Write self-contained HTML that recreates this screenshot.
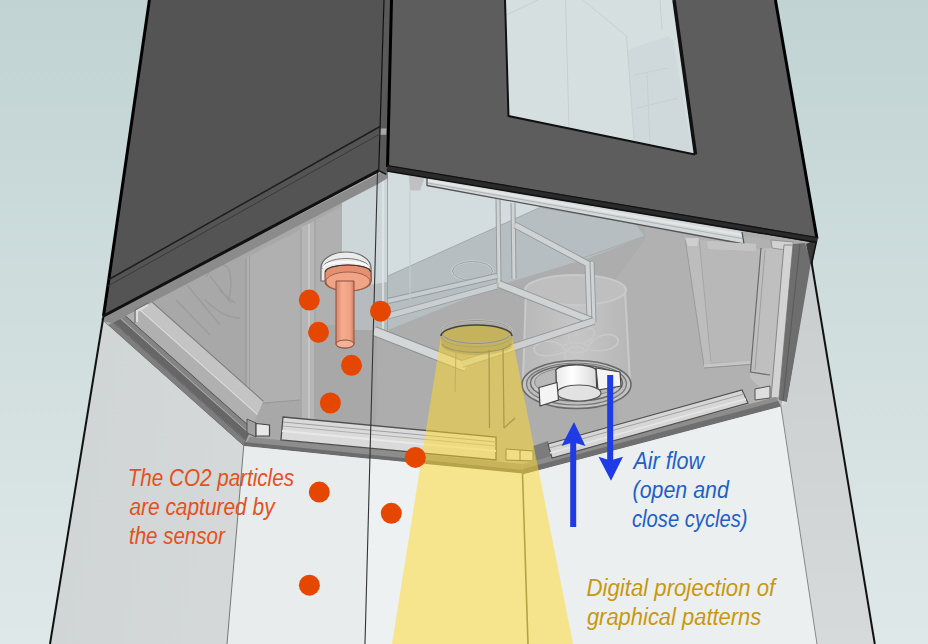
<!DOCTYPE html>
<html><head><meta charset="utf-8"><style>
html,body{margin:0;padding:0;width:928px;height:644px;overflow:hidden;background:#d0dede}
svg{display:block}
.t{font-family:"Liberation Sans",sans-serif;font-style:italic}
</style></head><body>
<svg width="928" height="644" viewBox="0 0 928 644">
<defs>
<linearGradient id="bg" x1="0" y1="0" x2="0" y2="1">
<stop offset="0" stop-color="#c1d3d3"/><stop offset="1" stop-color="#dfe8e8"/>
</linearGradient>
<linearGradient id="lw" x1="0" y1="0" x2="1" y2="0.3">
<stop offset="0" stop-color="#cfd4d4"/><stop offset="1" stop-color="#d4d8d8"/>
</linearGradient>
<linearGradient id="rw" x1="0" y1="0" x2="0" y2="1">
<stop offset="0" stop-color="#c9cdcd"/><stop offset="1" stop-color="#d6dada"/>
</linearGradient>
<linearGradient id="stem" x1="0" y1="0" x2="1" y2="0">
<stop offset="0" stop-color="#d98466"/><stop offset="0.35" stop-color="#f6ae90"/><stop offset="0.8" stop-color="#eea082"/><stop offset="1" stop-color="#d07c60"/>
</linearGradient>
<linearGradient id="wcyl" x1="0" y1="0" x2="1" y2="0">
<stop offset="0" stop-color="#e8e8e8"/><stop offset="0.4" stop-color="#ffffff"/><stop offset="1" stop-color="#d8d8d8"/>
</linearGradient>
<linearGradient id="fcyl" x1="0" y1="0" x2="1" y2="0">
<stop offset="0" stop-color="#b8b8b8"/><stop offset="0.5" stop-color="#c6c6c6"/><stop offset="1" stop-color="#b6b6b6"/>
</linearGradient>
</defs>

<rect x="0" y="0" width="928" height="644" fill="url(#bg)"/>
<polygon points="101.2,319 378,173 388,166 817,238.75 781,406.5 522.5,474.5 243.75,446" fill="#adadad" />
<polygon points="110,312 378,177 376,445 250,440" fill="#a8a8a8" />
<g fill="none" stroke="#999" stroke-width="1.3" opacity="0.75"><path d="M187,285 L220,325"/><path d="M176,300 L210,335"/><path d="M206,277 C212,266 224,262 228,268 C232,276 232,292 228,300"/><path d="M210,276 L231,303 M219,290 L235,303"/><path d="M205,300 C215,310 228,318 240,318"/></g>
<polygon points="246,258 300,230 300,400 252,404 246,398" fill="#b0b0b0" />
<polyline points="246,258 246,398 252,404 300,400" fill="none" stroke="#999" stroke-width="1.2" />
<line x1="249.5" y1="256" x2="249.5" y2="398" stroke="#a0a0a0" stroke-width="1" />
<polygon points="300,228 316,220 316,420 300,420" fill="#b6b6b6" />
<line x1="301" y1="228" x2="301" y2="420" stroke="#9a9a9a" stroke-width="1" />
<line x1="309" y1="224" x2="309" y2="420" stroke="#c6c6c6" stroke-width="2" />
<line x1="315" y1="220" x2="315" y2="420" stroke="#9a9a9a" stroke-width="1" />
<polygon points="316,220 342,206 342,325 316,325" fill="#b0b0b0" />
<polygon points="342,200 378,181 388,176 388,282 342,290" fill="#cdd6d8" />
<polygon points="342,290 388,282 388,330 342,330" fill="#b6bcbe" />
<line x1="387.5" y1="176" x2="387.5" y2="330" stroke="#9aa2a4" stroke-width="1" />
<line x1="383" y1="178" x2="383" y2="330" stroke="#e0e6e8" stroke-width="1.5" />
<polygon points="388,172 742,233 742,243 636,224 540,207.5 388,276" fill="#d3dcde" />
<polygon points="388,276 540,207.5 636,224 645,236 589,258 500,285 388,330" fill="#b6bec1" />
<polyline points="388,276 540,207.5 636,224 645,236 580,259" fill="none" stroke="#a4acae" stroke-width="1" />
<ellipse cx="472.5" cy="271" rx="20" ry="9.5" fill="none" stroke="#c8cfd1" stroke-width="2.5"/>
<ellipse cx="472.5" cy="271" rx="20" ry="9.5" fill="none" stroke="#9aa2a4" stroke-width="1"/>
<polygon points="645,222 805,245 785,400 620,430 600,300 645,240" fill="#b1b1b1" />
<polygon points="684,237 760,249 756,362 704,362" fill="#b8b8b8" />
<polygon points="685,238 699,238 712,362 704,368" fill="#bdbdbd" />
<line x1="685" y1="238" x2="704" y2="366" stroke="#9a9a9a" stroke-width="1" />
<line x1="699" y1="238" x2="711" y2="362" stroke="#a5a5a5" stroke-width="1" />
<polyline points="704,366 756,362" fill="none" stroke="#c6c6c6" stroke-width="3" />
<polyline points="704,368 756,364" fill="none" stroke="#959595" stroke-width="1" />
<polygon points="685,238 699,238 697,246 688,246" fill="#cfcfcf" />
<polygon points="708,241 756,244 756,251 708,249" fill="#c4c4c4" />
<polygon points="760,249 784,247 771,398 750,378" fill="#bfbfbf" />
<polyline points="761,248 750.5,372 770,375" fill="none" stroke="#6a6a6a" stroke-width="1.2" />
<line x1="765" y1="250" x2="755" y2="370" stroke="#a0a0a0" stroke-width="1" />
<polygon points="771,240 793,242 795,262 787,262 786,250 772,248" fill="#d2d2d2" stroke="#888" stroke-width="0.8"/>
<polygon points="784,245 793,245 779,398 771,398" fill="#d3d3d3" stroke="#777" stroke-width="0.8"/>
<polygon points="793,244 805,243 812,265 787,402 779,400" fill="#6e6e6e" />
<line x1="800" y1="244" x2="783" y2="401" stroke="#5a5a5a" stroke-width="1" />
<polygon points="806,244 817,238.75 811.5,268" fill="#383838" />
<path d="M525,290 L522,384 A54.5,21 0 0 0 631,384 L626,290 A50.5,15 0 0 0 525,290 Z" fill="url(#fcyl)"/>
<ellipse cx="575.5" cy="290" rx="50.5" ry="15" fill="#bfbfbf" stroke="#c9c9c9" stroke-width="2"/>
<line x1="526" y1="292" x2="523" y2="383" stroke="#c9c9c9" stroke-width="2" />
<line x1="625" y1="292" x2="630" y2="383" stroke="#c9c9c9" stroke-width="2" />
<g fill="none" stroke="#c9c9c9" stroke-width="1.6"><ellipse cx="576" cy="347.5" rx="13" ry="5"/><ellipse cx="576" cy="350" rx="8" ry="3"/><path d="M563,346 C548,336 530,344 535,352 C540,358 555,356 565,352"/><path d="M589,345 C600,330 620,333 618,342 C616,350 600,352 590,350"/><path d="M570,343 C565,333 575,325 590,328 C600,331 592,340 584,343"/><path d="M566,353 C560,362 575,366 583,360"/></g>
<ellipse cx="576.5" cy="384.5" rx="54.5" ry="24" fill="#c4c4c4" stroke="#6a6a6a" stroke-width="1.6"/>
<ellipse cx="576.5" cy="384" rx="50" ry="21" fill="#bdbdbd" stroke="#7a7a7a" stroke-width="1.2"/>
<ellipse cx="576.5" cy="383" rx="46" ry="18" fill="#c6c6c6" stroke="#6a6a6a" stroke-width="1.4"/>
<ellipse cx="576.5" cy="382" rx="42" ry="15" fill="#b9b9b9" stroke="#8a8a8a" stroke-width="1"/>
<polygon points="596,368 620,372 621,386 598,390" fill="#f4f4f4" stroke="#444" stroke-width="1.2"/>
<path d="M556,372 A20,6 0 0 1 596,370 L597,393 A21.5,8 0 0 1 556.5,393 Z" fill="url(#wcyl)" stroke="#444" stroke-width="1.3"/>
<ellipse cx="579" cy="393" rx="22" ry="8" fill="#e2e2e2" stroke="#555" stroke-width="1.2"/>
<polygon points="539,387.5 557,382.5 558.5,400 540,406" fill="#f4f4f4" stroke="#444" stroke-width="1.2"/>
<g>
<polyline points="498,198 499,283" fill="none" stroke="#979c9e" stroke-width="5" stroke-linejoin="miter"/><polyline points="498,198 499,283" fill="none" stroke="#cfd3d4" stroke-width="3" stroke-linejoin="miter"/>
<polyline points="513,203 514,279" fill="none" stroke="#979c9e" stroke-width="5" stroke-linejoin="miter"/><polyline points="513,203 514,279" fill="none" stroke="#cfd3d4" stroke-width="3" stroke-linejoin="miter"/>
<polyline points="388,301 497,276" fill="none" stroke="#979c9e" stroke-width="6" stroke-linejoin="miter"/><polyline points="388,301 497,276" fill="none" stroke="#c6cdcf" stroke-width="4" stroke-linejoin="miter"/>
<polyline points="388,316 497,286" fill="none" stroke="#979c9e" stroke-width="7" stroke-linejoin="miter"/><polyline points="388,316 497,286" fill="none" stroke="#c9cfd1" stroke-width="5" stroke-linejoin="miter"/>
<polyline points="515,225 588,264 590,318" fill="none" stroke="#979c9e" stroke-width="7" stroke-linejoin="miter"/><polyline points="515,225 588,264 590,318" fill="none" stroke="#cfd3d4" stroke-width="5" stroke-linejoin="miter"/>
<polyline points="499,284 592,321" fill="none" stroke="#979c9e" stroke-width="8" stroke-linejoin="miter"/><polyline points="499,284 592,321" fill="none" stroke="#cfd3d4" stroke-width="6" stroke-linejoin="miter"/>
<polyline points="592,262 594,322" fill="none" stroke="#979c9e" stroke-width="5" stroke-linejoin="miter"/><polyline points="592,262 594,322" fill="none" stroke="#cfd3d4" stroke-width="3" stroke-linejoin="miter"/>
<polyline points="374,331 466,367" fill="none" stroke="#8e9294" stroke-width="10" stroke-linejoin="miter"/><polyline points="374,331 466,367" fill="none" stroke="#d4d7d8" stroke-width="8" stroke-linejoin="miter"/>
<polyline points="462,364 594,321" fill="none" stroke="#9a9a9a" stroke-width="8" stroke-linejoin="miter"/><polyline points="462,364 594,321" fill="none" stroke="#cdcfd0" stroke-width="6" stroke-linejoin="miter"/>
</g>
<polygon points="428,177.5 742,231.5 744,244 427,185.5" fill="#d3d9da" />
<line x1="428" y1="180.5" x2="742" y2="235" stroke="#e4e6e6" stroke-width="2.5" />
<line x1="428" y1="183" x2="742" y2="238.5" stroke="#a8a8a8" stroke-width="0.8" />
<line x1="427" y1="185.5" x2="744" y2="244" stroke="#555" stroke-width="1.3" />
<line x1="427" y1="177" x2="427" y2="186" stroke="#555" stroke-width="1.3" />
<line x1="742" y1="232" x2="744" y2="244" stroke="#555" stroke-width="1.3" />
<polygon points="408.75,174.5 425,176.5 420,190.6 410,190.6" fill="#c0c0c0" />
<line x1="410" y1="191" x2="410" y2="300" stroke="#c4cbcd" stroke-width="1" />
<polygon points="707,241 756,244 756,251 708,249" fill="#c4c4c4" />
<polygon points="108.02,325.08 243.75,446 245.86,441.18 112.76,322.6" fill="#7e7e7e" />
<polygon points="112.76,322.6 245.86,441.18 246.19,440.41 113.52,322.21" fill="#555555" />
<polygon points="113.52,322.21 246.19,440.41 249.23,433.47 120.34,318.64" fill="#666666" />
<polygon points="120.34,318.64 249.23,433.47 249.57,432.7 121.1,318.25" fill="#a8a8a8" />
<polygon points="121.1,318.25 249.57,432.7 251.34,428.65 125.08,316.17" fill="#848484" />
<polygon points="125.08,316.17 251.34,428.65 251.76,427.69 126.03,315.67" fill="#555555" />
<polygon points="126.03,315.67 251.76,427.69 257.23,415.16 138.34,309.23" fill="#b0b0b0" />
<polygon points="138.34,309.23 257.23,415.16 257.87,413.71 139.77,308.49" fill="#dadada" />
<polygon points="139.77,308.49 257.87,413.71 263.13,401.66 151.61,302.3" fill="#c4c4c4" />
<polygon points="151.61,302.3 263.13,401.66 263.56,400.7 152.56,301.81" fill="#7a7a7a" />
<line x1="101.2" y1="319" x2="243.75" y2="446" stroke="#505050" stroke-width="1" />
<polygon points="103.5,316 378,174 388,168 388,178 378,184 112,323 101.5,321" fill="#8b8b8b" />
<polyline points="137,322 137,311 148,305" fill="none" stroke="#dcdcdc" stroke-width="2.2" />
<polyline points="135,323 135,310 148,303" fill="none" stroke="#6a6a6a" stroke-width="1" />
<polygon points="247,419 256,423 256,437 247,433" fill="#a0a0a0" stroke="#555" stroke-width="1"/>
<polygon points="256,423.5 269.5,425 269.5,436 256,436" fill="#e8e8e8" stroke="#444" stroke-width="1.2"/>
<polygon points="243.75,446 522.5,474.5 522.5,464 250,437" fill="#8d8d8d" />
<polygon points="243.75,446 522.5,474.5 522.5,470 244,442" fill="#6c6c6c" />
<polygon points="283,417 496,437 496,460 281,440" fill="#dadada" stroke="#505050" stroke-width="1.3"/>
<line x1="283" y1="422" x2="496" y2="442" stroke="#a0a0a0" stroke-width="1" />
<line x1="283" y1="426" x2="496" y2="446" stroke="#b0b0b0" stroke-width="1" />
<line x1="282" y1="431" x2="496" y2="451" stroke="#e8e8e8" stroke-width="2" />
<polygon points="506,449 533,451 533,461 506,460" fill="#e0e0e0" stroke="#555" stroke-width="1"/>
<line x1="520" y1="450" x2="520" y2="461" stroke="#555" stroke-width="1" />
<polygon points="533,446 548,441 552,456 535,462" fill="#7c7c7c" />
<polygon points="522.5,474.5 781,406.5 776,397 522.5,464" fill="#8d8d8d" />
<polygon points="522.5,474.5 781,406.5 778,401 522.5,469" fill="#6f6f6f" />
<polygon points="548,444 742,390 748,403 552,458" fill="#d6d6d6" stroke="#505050" stroke-width="1.2"/>
<line x1="549" y1="448" x2="744" y2="394" stroke="#a0a0a0" stroke-width="1" />
<line x1="550" y1="453" x2="746" y2="399" stroke="#e6e6e6" stroke-width="1.5" />
<polygon points="755,389 770,386 770,398 755,400" fill="#dedede" stroke="#555" stroke-width="1"/>
<polygon points="101.2,319 243.75,446 227,644 50,644" fill="url(#lw)" />
<polygon points="243.75,446 522.5,474.5 528,644 227,644" fill="#e8ecec" />
<polygon points="369.9,458.5 522.5,473.5 528,644 365,644" fill="#eef1f2" />
<polygon points="522.5,474.5 781,406.5 817,644 528,644" fill="#eceff0" />
<polygon points="811,262 874.8,644 817,644 781,406.5 787,402" fill="url(#rw)" />
<line x1="103.5" y1="316" x2="50" y2="644" stroke="#111" stroke-width="2" />
<line x1="811.5" y1="262" x2="874.8" y2="644" stroke="#111" stroke-width="2" />
<line x1="817" y1="239" x2="811.5" y2="264" stroke="#111" stroke-width="1.5" />
<line x1="243.75" y1="445.6" x2="227" y2="644" stroke="#777" stroke-width="1" />
<line x1="780.75" y1="405" x2="817" y2="644" stroke="#888" stroke-width="1" />
<line x1="522.5" y1="473.5" x2="528" y2="644" stroke="#6a6a5a" stroke-width="1.6" />
<line x1="377.5" y1="172" x2="365" y2="644" stroke="#333" stroke-width="1.1" />
<path d="M441,336 A35.5,11 0 0 1 512,336 L573,644 L392,644 Z" fill="rgba(255,218,40,0.5)"/>
<ellipse cx="476.5" cy="332" rx="35.5" ry="11.5" fill="none" stroke="#c8c8c0" stroke-width="2"/>
<ellipse cx="476.5" cy="332" rx="35.5" ry="11.5" fill="none" stroke="#8a8a80" stroke-width="0.8"/>
<path d="M441,336 A35.5,11 0 0 1 512,336 L512.5,345 A35.5,10 0 0 1 441.5,345 Z" fill="rgba(110,95,20,0.16)"/>
<path d="M441,336 A35.5,11 0 0 1 512,336" fill="none" stroke="#45453a" stroke-width="1.4"/>
<path d="M442,344 A35,10 0 0 0 511,344" fill="none" stroke="#a09a60" stroke-width="1.2"/>
<path d="M441,336 A35.5,11 0 0 0 512,336" fill="none" stroke="#b0a860" stroke-width="1"/>
<line x1="489" y1="350" x2="489.5" y2="428" stroke="#a89850" stroke-width="1.2" />
<line x1="503" y1="348" x2="504" y2="428" stroke="#a89850" stroke-width="1.2" />
<line x1="504" y1="428" x2="515" y2="418" stroke="#a89850" stroke-width="1.2" />
<line x1="456" y1="350" x2="455" y2="392" stroke="#bfb060" stroke-width="1" />
<polygon points="149.4,0 384,0 378.75,170.6 103.5,316" fill="#545454" />
<polygon points="384,0 391.5,0 387.5,167 386.25,174.4 378.75,170.6" fill="#595959" />
<polygon points="380.2,128.5 386.5,128.5 386.3,134.7 380,134.7" fill="#a8a8a8" />
<polygon points="391.5,0 775.4,0 817,238.75 387.5,167" fill="#5d5d5d" />
<line x1="384" y1="0" x2="378.75" y2="170.6" stroke="#111" stroke-width="1.2" />
<line x1="378.75" y1="170.6" x2="386.25" y2="174.4" stroke="#111" stroke-width="1.2" />
<polygon points="505,0 674,0 695,154.5 508.5,116" fill="#d6dfe0" />
<polygon points="627,50 668,36 673,40 692,152 634,141" fill="#cfd8da" />
<g stroke="#c6cfd1" stroke-width="1" fill="none"><line x1="565.5" y1="0" x2="569" y2="128"/><polyline points="583,0 626.5,36 634,139"/><line x1="506" y1="15" x2="538" y2="0"/><line x1="634" y1="75" x2="668" y2="68"/><line x1="637" y1="108" x2="678" y2="98"/><line x1="647" y1="72" x2="650" y2="145"/><line x1="660" y1="0" x2="662" y2="30"/></g>
<polyline points="505,0 508.5,116 695,154.5" fill="none" stroke="#111" stroke-width="2"/>
<line x1="674" y1="0" x2="695.5" y2="154.5" stroke="#111" stroke-width="3.5" />
<line x1="149.4" y1="0" x2="103.5" y2="316" stroke="#000" stroke-width="3" />
<line x1="775.4" y1="0" x2="817" y2="238.75" stroke="#000" stroke-width="3" />
<line x1="391.5" y1="0" x2="387.5" y2="167" stroke="#000" stroke-width="3" />
<line x1="387" y1="168" x2="817" y2="240" stroke="#2a2a2a" stroke-width="6" />
<line x1="387" y1="165.5" x2="817" y2="237.5" stroke="#111" stroke-width="1.2" />
<line x1="387" y1="171" x2="817" y2="242.5" stroke="#111" stroke-width="1.5" />
<line x1="103.5" y1="316" x2="378.75" y2="170.6" stroke="#111" stroke-width="3" />
<line x1="108.8" y1="279.5" x2="380" y2="126.5" stroke="#1e1e1e" stroke-width="1.5" />
<line x1="108" y1="286" x2="380" y2="134" stroke="#3a3a3a" stroke-width="1" />
<path d="M321,281 L321,268 A25,16 0 0 1 371,268 L371,281 Z" fill="#ebebeb" stroke="#6a6a6a" stroke-width="1.2"/>
<path d="M322,269 A24,10.5 0 0 1 370,269" fill="none" stroke="#7a7a7a" stroke-width="1"/>
<path d="M323,268 A23,6 0 0 1 369,268" fill="none" stroke="#fafafa" stroke-width="2"/>
<path d="M325,281.5 L325,272 A23,7 0 0 1 371,272 L371,281.5 A23,9.5 0 0 1 325,281.5 Z" fill="#e48f70" stroke="#8a4e3a" stroke-width="1.1"/>
<path d="M325.5,272 A22.5,7 0 0 1 370.5,272" fill="none" stroke="#3a3a3a" stroke-width="1.1"/>
<ellipse cx="348" cy="281.5" rx="22" ry="9.5" fill="#f0a587" stroke="#a0604a" stroke-width="1"/>
<path d="M336,281 L336,344 A9,4 0 0 0 354,344 L354,281 Z" fill="url(#stem)" stroke="#8a5040" stroke-width="1"/>
<ellipse cx="345" cy="344" rx="9" ry="4" fill="#f3b195" stroke="#8a5040" stroke-width="1"/>
<g fill="#e54700"><circle cx="309.3" cy="300.1" r="10.5"/><circle cx="380.5" cy="311.2" r="10.5"/><circle cx="318.5" cy="332.3" r="10.5"/><circle cx="351.5" cy="365.3" r="10.5"/><circle cx="330.4" cy="403" r="10.5"/><circle cx="415.3" cy="457.4" r="10.5"/><circle cx="319.3" cy="492.1" r="10.5"/><circle cx="391.3" cy="513.3" r="10.5"/><circle cx="309.4" cy="585.2" r="10.5"/></g>
<g fill="#1f3be6"><rect x="607.2" y="375" width="6" height="88"/><polygon points="598.5,456.8 610.2,460.6 623,456.8 611,480.8"/><rect x="570.2" y="439" width="6" height="88"/><polygon points="561.5,446 573.2,442.2 585.4,446 574,422"/></g>
<g class="t">
<text x="127.7" y="486" fill="#e6501a" font-size="23" textLength="166.32" lengthAdjust="spacingAndGlyphs">The CO2 particles</text>
<text x="129.4" y="515" fill="#e6501a" font-size="23" textLength="145.24" lengthAdjust="spacingAndGlyphs">are captured by</text>
<text x="129.0" y="544" fill="#e6501a" font-size="23" textLength="95.76" lengthAdjust="spacingAndGlyphs">the sensor</text>
<text x="633.4" y="469" fill="#1c60c8" font-size="23" textLength="70.59" lengthAdjust="spacingAndGlyphs">Air flow</text>
<text x="632.6" y="498" fill="#1c60c8" font-size="23" textLength="96.16" lengthAdjust="spacingAndGlyphs">(open and</text>
<text x="632.0" y="527" fill="#1c60c8" font-size="23" textLength="115.54" lengthAdjust="spacingAndGlyphs">close cycles)</text>
<text x="586.5" y="596" fill="#c8980c" font-size="23" textLength="188.66" lengthAdjust="spacingAndGlyphs">Digital projection of</text>
<text x="586.9" y="625" fill="#c8980c" font-size="23" textLength="174.41" lengthAdjust="spacingAndGlyphs">graphical patterns</text>
</g>
</svg>
</body></html>
